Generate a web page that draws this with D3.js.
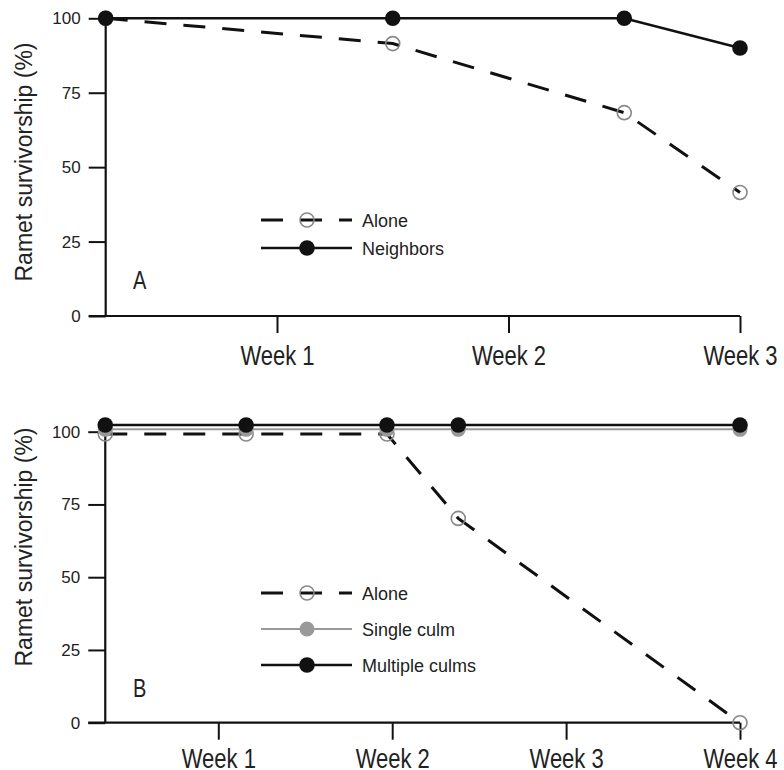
<!DOCTYPE html>
<html>
<head>
<meta charset="utf-8">
<script src="https://cdn.jsdelivr.net/npm/d3@7"></script>
<style>
  body { margin: 0; background: #fff; }
  svg { display: block; font-family: "Liberation Sans", Arial, Helvetica, sans-serif; }
</style>
</head>
<body>
<svg id="chart" width="784" height="770"></svg>
<script>
// panel A data (x in weeks)
const weeksA = [0.26, 1.5, 2.5, 3];
const aloneA = [100, 91.5, 68.3, 41.5];
const neighborsA = [100, 100, 100, 90];
const weekTicksA = [1, 2, 3];

// panel B data
const weeksB = [0.35, 1.16, 1.97, 2.38, 4];
const aloneB = [99.2, 99.2, 99.2, 70.2, 0];
const singleB = [100.8, 100.8, 100.8, 100.8, 100.8];
const multipleB = [102.3, 102.3, 102.3, 102.3, 102.3];
const weekTicksB = [1, 2, 3, 4];

const yTicks = [0, 25, 50, 75, 100];
const yTitle = "Ramet survivorship (%)";
const legendA = ["Alone", "Neighbors"];
const legendB = ["Alone", "Single culm", "Multiple culms"];

const svg = d3.select("#chart");
const INK = "#111";
const GREY = "#999";
const DASH = "22,17";

const styles = {
  alone: { dash: DASH, stroke: INK, width: 3, marker: "open" },
  neighbors: { dash: null, stroke: INK, width: 2.6, marker: "black" },
  single: { dash: null, stroke: GREY, width: 2, marker: "grey" },
  multiple: { dash: null, stroke: INK, width: 2.6, marker: "black" },
};

function marker(g, x, y, kind) {
  const c = g.append("circle").attr("cx", x).attr("cy", y);
  if (kind === "open") c.attr("r", 7).attr("fill", "none").attr("stroke", "#888").attr("stroke-width", 1.6);
  else if (kind === "grey") c.attr("r", 7.5).attr("fill", GREY);
  else c.attr("r", 7.8).attr("fill", INK);
}

function series(g, x, y, xs, ys, st) {
  const pts = xs.map((d, i) => [x(d), y(ys[i])]);
  g.append("path")
    .attr("d", d3.line()(pts))
    .attr("fill", "none")
    .attr("stroke", st.stroke)
    .attr("stroke-width", st.width)
    .attr("stroke-dasharray", st.dash);
  pts.forEach((p) => marker(g, p[0], p[1], st.marker));
}

function panel(opt) {
  const g = svg.append("g");
  const x = d3.scaleLinear().domain([opt.weekTicks[0], opt.weekTicks[opt.weekTicks.length - 1]]).range(opt.xRange);
  const y = d3.scaleLinear().domain([0, 100]).range(opt.yRange);
  const x0 = x(opt.weeks[0]);
  const tick = 17;

  // y axis
  const ya = g.append("g").attr("transform", `translate(${x0},0)`)
    .call(d3.axisLeft(y).tickValues(yTicks).tickSize(tick).tickSizeOuter(0).tickPadding(8));
  ya.select(".domain").remove();
  ya.selectAll("line").attr("stroke", INK).attr("stroke-width", 2);
  ya.selectAll("text").attr("font-size", 17).attr("fill", "#222").attr("font-family", null);
  g.append("line").attr("x1", x0).attr("x2", x0).attr("y1", opt.yAxisTop).attr("y2", y(0))
    .attr("stroke", INK).attr("stroke-width", 2.2);

  // x axis (labels are stretched vertically like the original)
  const xa = g.append("g").attr("transform", `translate(0,${y(0)})`)
    .call(d3.axisBottom(x).tickValues(opt.weekTicks).tickSize(tick).tickSizeOuter(0).tickFormat((d) => "Week " + d));
  xa.select(".domain").remove();
  xa.selectAll("line").attr("stroke", INK).attr("stroke-width", 2);
  xa.selectAll("text")
    .attr("font-size", 22).attr("fill", "#222").attr("font-family", null)
    .attr("y", null).attr("dy", null)
    .attr("transform", `translate(0,${opt.labelDrop}) scale(1,1.28)`);
  g.append("line").attr("x1", x0 - tick).attr("x2", x(opt.weekTicks[opt.weekTicks.length - 1]))
    .attr("y1", y(0)).attr("y2", y(0)).attr("stroke", INK).attr("stroke-width", 2.2);

  // axis title
  g.append("text")
    .attr("transform", `translate(32,${opt.titleY}) rotate(-90)`)
    .attr("text-anchor", "middle")
    .attr("font-size", 23)
    .attr("fill", "#222")
    .text(yTitle);

  // panel letter
  g.append("text")
    .attr("transform", `translate(133,${opt.letterY}) scale(1,1.28)`)
    .attr("font-size", 20)
    .attr("fill", "#222")
    .text(opt.letter);

  opt.series.forEach((s) => series(g, x, y, opt.weeks, s.values, styles[s.key]));

  // legend
  opt.legend.forEach((name, i) => {
    const st = styles[opt.series[i].key];
    const ly = opt.legendY + i * opt.legendStep;
    const lg = g.append("g");
    lg.append("line").attr("x1", 261).attr("x2", 352).attr("y1", ly).attr("y2", ly)
      .attr("stroke", st.stroke).attr("stroke-width", st.dash ? 3 : st.width)
      .attr("stroke-dasharray", st.dash);
    marker(lg, 307, ly, st.marker);
    lg.append("text").attr("x", 362).attr("y", ly + 6.5)
      .attr("font-size", 18).attr("fill", "#222").text(name);
  });
}

panel({
  weeks: weeksA, weekTicks: weekTicksA,
  xRange: [277, 740], yRange: [316, 18.3], yAxisTop: 18.3,
  labelDrop: 49, titleY: 162, letter: "A", letterY: 289,
  series: [{ key: "alone", values: aloneA }, { key: "neighbors", values: neighborsA }],
  legend: legendA, legendY: 220, legendStep: 28,
});

panel({
  weeks: weeksB, weekTicks: weekTicksB,
  xRange: [218.3, 740], yRange: [722.7, 431.7], yAxisTop: 425,
  labelDrop: 45.5, titleY: 547, letter: "B", letterY: 697,
  series: [{ key: "alone", values: aloneB }, { key: "single", values: singleB }, { key: "multiple", values: multipleB }],
  legend: legendB, legendY: 593, legendStep: 36,
});
</script>
</body>
</html>
